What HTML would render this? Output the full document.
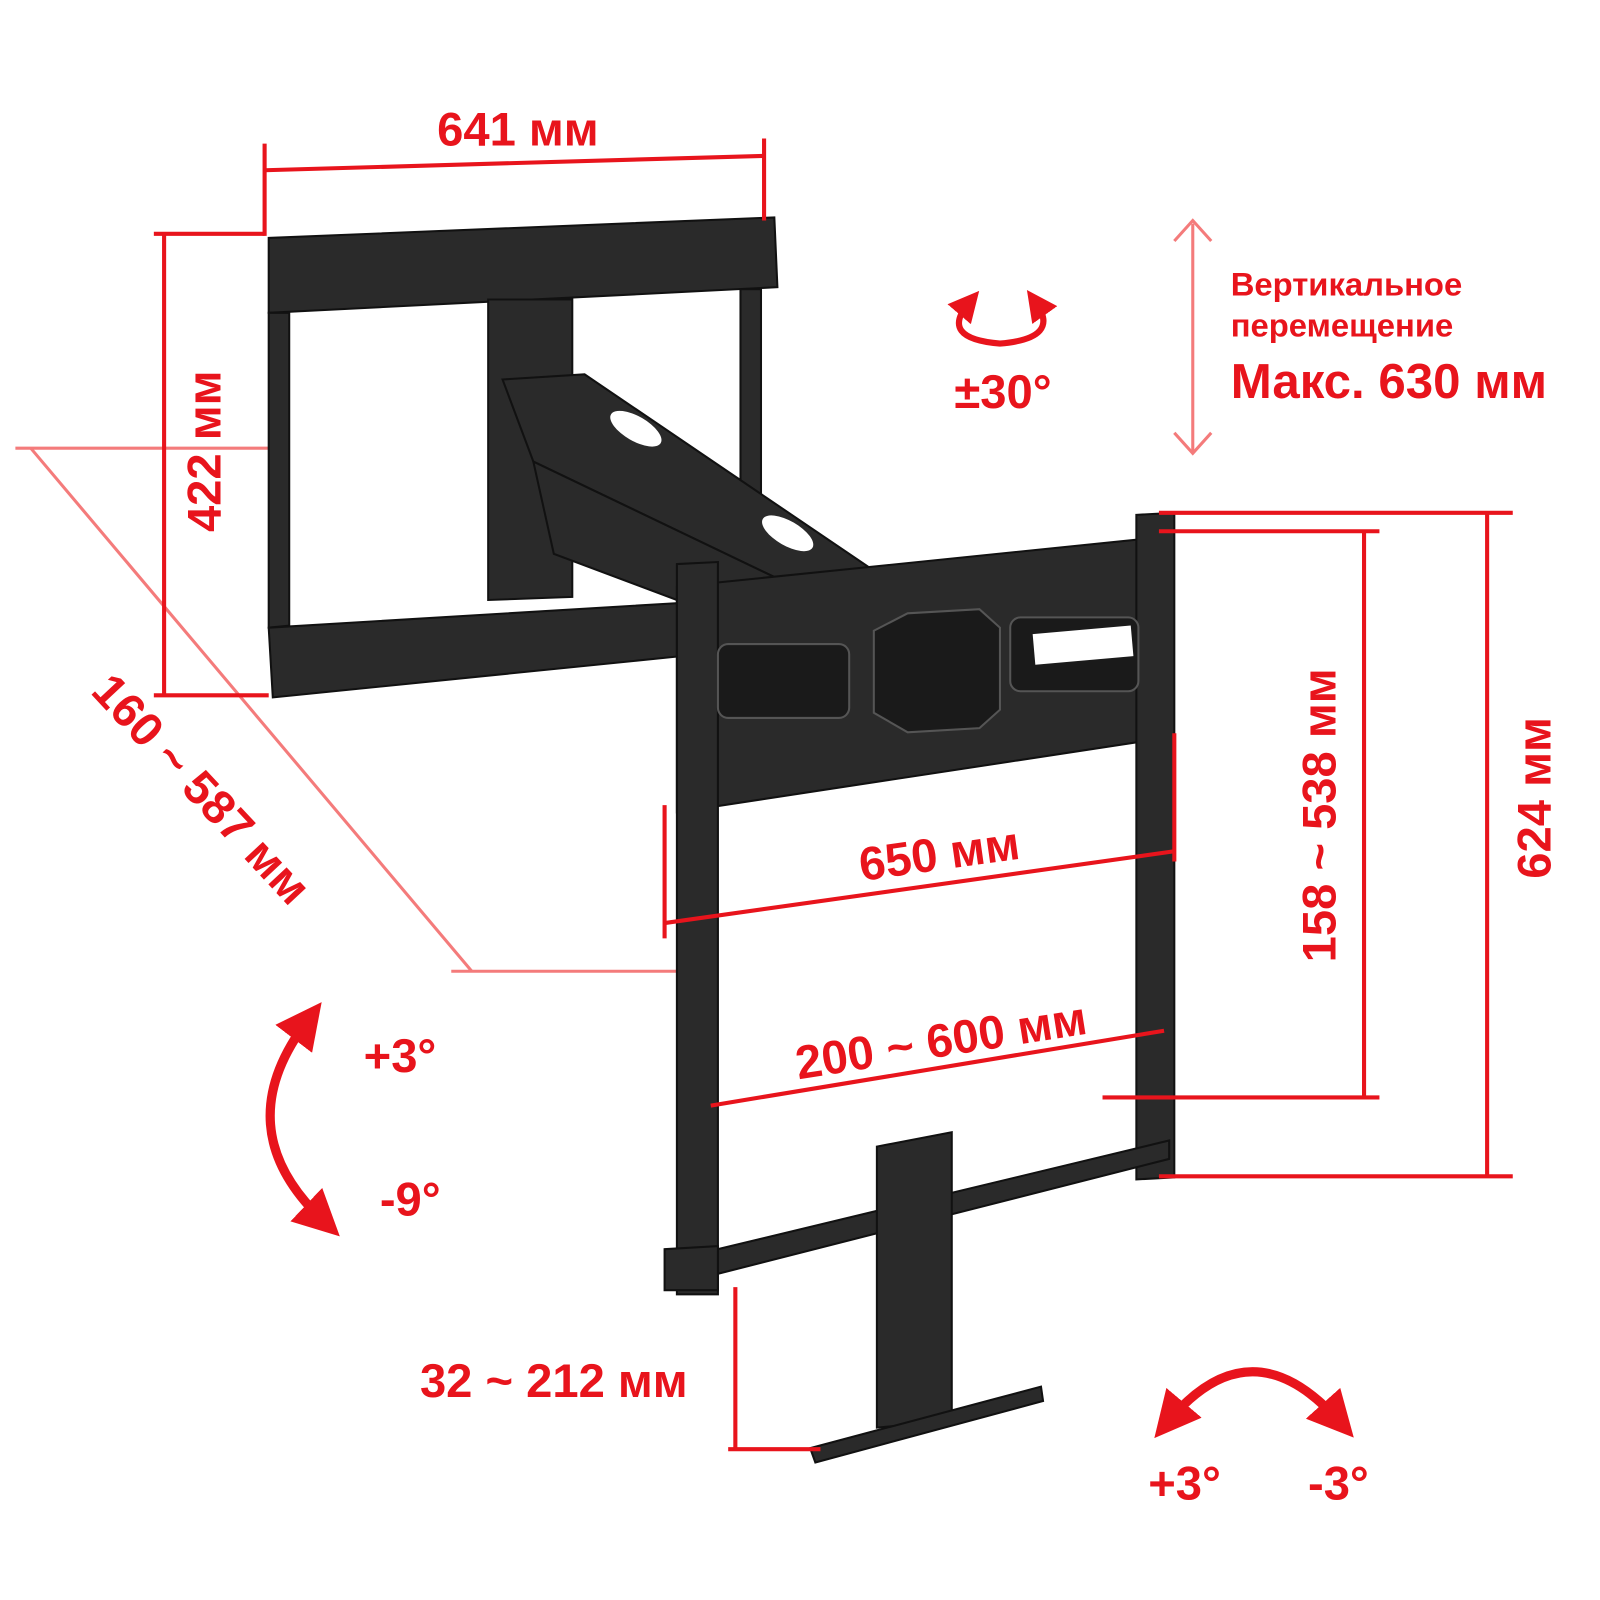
<!DOCTYPE html>
<html><head><meta charset="utf-8"><style>
html,body{margin:0;padding:0;background:#fff}
svg{display:block}
text{font-family:"Liberation Sans","DejaVu Sans",sans-serif;font-weight:bold;fill:#e8141c}
</style></head><body>
<svg width="1600" height="1600" viewBox="0 0 1600 1600" xmlns="http://www.w3.org/2000/svg">
<defs>
<marker id="ar" viewBox="0 0 10 10" refX="5" refY="5" markerWidth="5" markerHeight="5" orient="auto-start-reverse"><path d="M0,0L10,5L0,10z" fill="#e8141c"/></marker>
</defs>
<g transform="scale(1.0256)">
<g stroke="#f47b7b" stroke-width="3" fill="none">
<line x1="15" y1="437" x2="262" y2="437"/>
<line x1="30" y1="437" x2="460" y2="947"/>
<line x1="440" y1="947" x2="665" y2="947"/>
<line x1="1163" y1="218" x2="1163" y2="440"/>
<polyline points="1145,235 1163,215 1181,235"/>
<polyline points="1145,422 1163,442 1181,422"/>
</g>
<g fill="#2a2a2a" stroke="#111" stroke-width="2">
<polygon points="262,232 755,212 758,280 262,305"/>
<polygon points="262,305 282,305 282,610 262,612"/>
<polygon points="722,282 742,282 742,598 722,600"/>
<polygon points="262,612 662,588 662,640 266,680"/>
<polygon points="476,292 558,292 558,582 476,585"/>
<polygon points="490,370 570,365 850,555 760,565 520,450"/>
<polygon points="520,450 760,565 700,600 540,540"/>
<polygon points="660,572 1120,525 1120,722 660,792"/>
<polygon points="660,550 700,548 700,1262 660,1262"/>
<polygon points="1108,502 1145,500 1145,1148 1108,1150"/>
<polygon points="700,1218 1140,1112 1140,1130 700,1242"/>
<polygon points="855,1118 928,1104 928,1385 855,1392"/>
<polygon points="790,1412 1015,1352 1017,1366 795,1426"/>
<polygon points="648,1218 700,1215 700,1258 648,1258"/>
</g>
<g fill="#1a1a1a" stroke="#555" stroke-width="2">
<polygon points="852,615 885,598 955,594 975,612 975,692 955,710 885,714 852,695"/>
<rect x="700" y="628" width="128" height="72" rx="10"/>
<rect x="985" y="602" width="125" height="72" rx="10"/>
</g>
<g fill="#fff">
<rect x="1008" y="614" width="96" height="30" transform="rotate(-5 1056 629)"/>
<ellipse cx="620" cy="418" rx="28" ry="12" transform="rotate(30 620 418)"/>
<ellipse cx="768" cy="520" rx="28" ry="12" transform="rotate(30 768 520)"/>
</g>
<g stroke="#e8141c" stroke-width="4" fill="none">
<line x1="258" y1="166" x2="745" y2="152"/>
<line x1="258" y1="140" x2="258" y2="230"/>
<line x1="745" y1="135" x2="745" y2="215"/>
<line x1="160" y1="228" x2="160" y2="678"/>
<line x1="150" y1="228" x2="258" y2="228"/>
<line x1="150" y1="678" x2="262" y2="678"/>
<line x1="648" y1="900" x2="1145" y2="830"/>
<line x1="648" y1="785" x2="648" y2="915"/>
<line x1="1145" y1="715" x2="1145" y2="840"/>
<line x1="693" y1="1078" x2="1135" y2="1005"/>
<line x1="1330" y1="518" x2="1330" y2="1070"/>
<line x1="1130" y1="518" x2="1345" y2="518"/>
<line x1="1075" y1="1070" x2="1345" y2="1070"/>
<line x1="1450" y1="500" x2="1450" y2="1147"/>
<line x1="1130" y1="500" x2="1475" y2="500"/>
<line x1="1130" y1="1147" x2="1475" y2="1147"/>
<line x1="717" y1="1255" x2="717" y2="1413"/>
<line x1="710" y1="1413" x2="800" y2="1413"/>
</g>
<g stroke="#e8141c" stroke-width="9" fill="none">
<path d="M300,995 Q220,1100 315,1190" marker-start="url(#ar)" marker-end="url(#ar)"/>
<path d="M1140,1385 Q1220,1290 1305,1385" marker-start="url(#ar)" marker-end="url(#ar)"/>
<path d="M945,295 Q915,330 975,335 Q1035,330 1010,295" stroke-width="6" marker-start="url(#ar)" marker-end="url(#ar)"/>
</g>
<text x="505" y="142" font-size="46" text-anchor="middle">641 мм</text>
<text transform="translate(215,440) rotate(-90)" font-size="46" text-anchor="middle">422 мм</text>
<text transform="translate(185,780) rotate(47)" font-size="46" text-anchor="middle">160 ~ 587 мм</text>
<text x="978" y="398" font-size="46" text-anchor="middle">±30°</text>
<text x="1200" y="288" font-size="32">Вертикальное</text>
<text x="1200" y="328" font-size="32">перемещение</text>
<text x="1200" y="388" font-size="48">Макс. 630 мм</text>
<text transform="translate(918,848) rotate(-8)" font-size="46" text-anchor="middle">650 мм</text>
<text transform="translate(920,1030) rotate(-9)" font-size="46" text-anchor="middle">200 ~ 600  мм</text>
<text transform="translate(1302,795) rotate(-90)" font-size="46" text-anchor="middle">158 ~ 538  мм</text>
<text transform="translate(1512,778) rotate(-90)" font-size="46" text-anchor="middle">624 мм</text>
<text x="540" y="1362" font-size="46" text-anchor="middle">32 ~ 212  мм</text>
<text x="390" y="1045" font-size="46" text-anchor="middle">+3°</text>
<text x="400" y="1185" font-size="46" text-anchor="middle">-9°</text>
<text x="1155" y="1462" font-size="46" text-anchor="middle">+3°</text>
<text x="1305" y="1462" font-size="46" text-anchor="middle">-3°</text>
</g>
</svg>
</body></html>
